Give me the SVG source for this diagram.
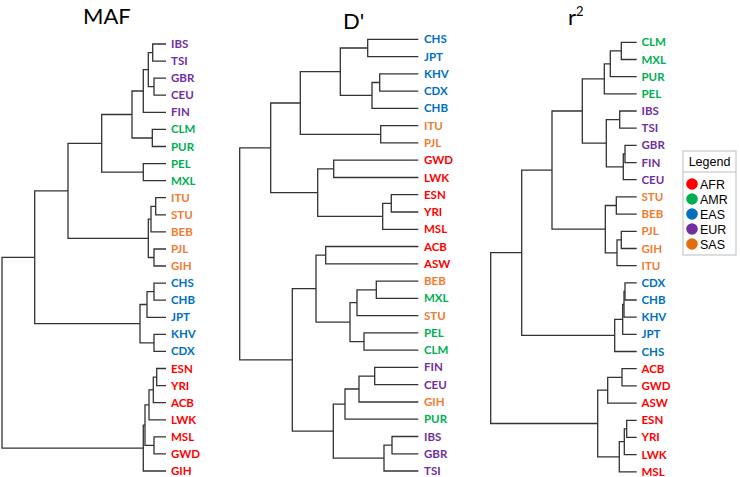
<svg xmlns="http://www.w3.org/2000/svg" width="740" height="477" viewBox="0 0 740 477">
<style>
.bg{fill:#ffffff}
.ln{fill:none;stroke:#333333;stroke-width:1.3}
.title{font-family:Lato,"Open Sans","Liberation Sans",sans-serif;font-size:22px;fill:#000}
.lb{font-family:Lato,"Liberation Sans",sans-serif;font-weight:bold;font-size:11.5px}
.eur{fill:#7030A0}.amr{fill:#00B050}.sas{fill:#ED7D31}.eas{fill:#0070C0}.afr{fill:#FF0000}
.lg{font-family:"Liberation Sans",Arial,sans-serif;font-size:12.5px;fill:#000}
.lgbox{fill:#fff;stroke:#bdbdbd;stroke-width:1}
</style>
<rect class="bg" x="0" y="0" width="740" height="477"/>
<g id="titles">
<text class="title" x="83" y="24">MAF</text>
<text class="title" x="343" y="29">D'</text>
<text class="title" x="568" y="25">r<tspan font-size="13" dy="-9">2</tspan></text>
</g>
<g id="connectors">
<!-- MAF tree -->
<path class="ln" d="M166 44H152.7V61.1H166"/>
<path class="ln" d="M166 78.2H154V95.2H166"/>
<path class="ln" d="M152.7 52.6H148.3V86.7H154"/>
<path class="ln" d="M148.3 69.6H143.3V112.3H166"/>
<path class="ln" d="M166 129.4H152.3V146.5H166"/>
<path class="ln" d="M143.3 91H132V138H152.3"/>
<path class="ln" d="M166 163.6H143.3V180.6H166"/>
<path class="ln" d="M132 114.5H101.7V172.1H143.3"/>
<path class="ln" d="M166 197.7H155.7V214.8H166"/>
<path class="ln" d="M155.7 206.3H151V231.9H166"/>
<path class="ln" d="M166 249H154V266H166"/>
<path class="ln" d="M151 219.1H148.3V257.5H154"/>
<path class="ln" d="M101.7 143.3H68V238.3H148.3"/>
<path class="ln" d="M166 283.1H154V300.2H166"/>
<path class="ln" d="M154 291.7H147V317.3H166"/>
<path class="ln" d="M166 334.4H154V351.4H166"/>
<path class="ln" d="M147 304.5H140V342.9H154"/>
<path class="ln" d="M68 190.8H34.7V323.7H140"/>
<path class="ln" d="M166 368.5H156.7V385.6H166"/>
<path class="ln" d="M156.7 377.1H153.3V402.7H166"/>
<path class="ln" d="M153.3 389.9H149V419.8H166"/>
<path class="ln" d="M166 436.8H154V453.9H166"/>
<path class="ln" d="M149 404.9H145V445.4H154"/>
<path class="ln" d="M145 425.1H143.3V471H166"/>
<path class="ln" d="M34.7 257.3H2V448.1H143.3"/>
<!-- D' tree -->
<path class="ln" d="M418.3 39.3H367.7V56.6H418.3"/>
<path class="ln" d="M418.3 73.8H379.7V91.1H418.3"/>
<path class="ln" d="M379.7 82.5H372V108.4H418.3"/>
<path class="ln" d="M367.7 48H340.3V95.4H372"/>
<path class="ln" d="M418.3 125.7H380.7V142.9H418.3"/>
<path class="ln" d="M340.3 71.7H300.3V134.3H380.7"/>
<path class="ln" d="M418.3 160.2H333.7V177.5H418.3"/>
<path class="ln" d="M418.3 194.7H391.3V212H418.3"/>
<path class="ln" d="M391.3 203.4H382.7V229.3H418.3"/>
<path class="ln" d="M333.7 168.9H317.7V216.3H382.7"/>
<path class="ln" d="M300.3 103H270.7V192.6H317.7"/>
<path class="ln" d="M418.3 246.5H325.7V263.8H418.3"/>
<path class="ln" d="M418.3 281.1H376.3V298.4H418.3"/>
<path class="ln" d="M376.3 289.8H357V315.6H418.3"/>
<path class="ln" d="M418.3 332.9H364V350.2H418.3"/>
<path class="ln" d="M357 302.7H350V341.6H364"/>
<path class="ln" d="M325.7 255.2H316V322.1H350"/>
<path class="ln" d="M418.3 367.4H374.7V384.7H418.3"/>
<path class="ln" d="M374.7 376.1H359V402H418.3"/>
<path class="ln" d="M359 389H345V419.2H418.3"/>
<path class="ln" d="M418.3 436.5H392V453.8H418.3"/>
<path class="ln" d="M392 445.2H384V471H418.3"/>
<path class="ln" d="M345 404.1H333.3V458.1H384"/>
<path class="ln" d="M316 288.6H292.3V431.1H333.3"/>
<path class="ln" d="M270.7 147.8H239.7V359.9H292.3"/>
<!-- r2 tree -->
<path class="ln" d="M636.7 42.3H621.3V59.5H636.7"/>
<path class="ln" d="M621.3 50.9H610.3V76.7H636.7"/>
<path class="ln" d="M610.3 63.8H604.3V93.8H636.7"/>
<path class="ln" d="M636.7 111H619.7V128.2H636.7"/>
<path class="ln" d="M636.7 145.4H625V162.6H636.7"/>
<path class="ln" d="M625 154H623.3V179.7H636.7"/>
<path class="ln" d="M619.7 119.6H606.3V166.9H623.3"/>
<path class="ln" d="M604.3 78.8H582.3V143.2H606.3"/>
<path class="ln" d="M636.7 196.9H616.3V214.1H636.7"/>
<path class="ln" d="M636.7 231.3H621.3V248.5H636.7"/>
<path class="ln" d="M621.3 239.9H617V265.6H636.7"/>
<path class="ln" d="M616.3 205.5H605.3V252.8H617"/>
<path class="ln" d="M582.3 111H552V229.1H605.3"/>
<path class="ln" d="M636.7 282.8H625V300H636.7"/>
<path class="ln" d="M625 291.4H624V317.2H636.7"/>
<path class="ln" d="M624 304.3H622.7V334.4H636.7"/>
<path class="ln" d="M622.7 319.4H614.7V351.5H636.7"/>
<path class="ln" d="M552 170.1H521.7V335.4H614.7"/>
<path class="ln" d="M636.7 368.7H622V385.9H636.7"/>
<path class="ln" d="M622 377.3H607.7V403.1H636.7"/>
<path class="ln" d="M636.7 420.3H626.7V437.4H636.7"/>
<path class="ln" d="M626.7 428.9H624.3V454.6H636.7"/>
<path class="ln" d="M624.3 441.7H619.3V471.8H636.7"/>
<path class="ln" d="M607.7 390.2H597.7V456.8H619.3"/>
<path class="ln" d="M521.7 252.7H490.7V423.5H597.7"/>
</g>
<g id="maf-leaves" class="lb">
<g id="maf-IBS"><text class="eur" x="171" y="48">IBS</text></g>
<g id="maf-TSI"><text class="eur" x="171" y="65.1">TSI</text></g>
<g id="maf-GBR"><text class="eur" x="171" y="82.2">GBR</text></g>
<g id="maf-CEU"><text class="eur" x="171" y="99.2">CEU</text></g>
<g id="maf-FIN"><text class="eur" x="171" y="116.3">FIN</text></g>
<g id="maf-CLM"><text class="amr" x="171" y="133.4">CLM</text></g>
<g id="maf-PUR"><text class="amr" x="171" y="150.5">PUR</text></g>
<g id="maf-PEL"><text class="amr" x="171" y="167.6">PEL</text></g>
<g id="maf-MXL"><text class="amr" x="171" y="184.6">MXL</text></g>
<g id="maf-ITU"><text class="sas" x="171" y="201.7">ITU</text></g>
<g id="maf-STU"><text class="sas" x="171" y="218.8">STU</text></g>
<g id="maf-BEB"><text class="sas" x="171" y="235.9">BEB</text></g>
<g id="maf-PJL"><text class="sas" x="171" y="253">PJL</text></g>
<g id="maf-GIH"><text class="sas" x="171" y="270">GIH</text></g>
<g id="maf-CHS"><text class="eas" x="171" y="287.1">CHS</text></g>
<g id="maf-CHB"><text class="eas" x="171" y="304.2">CHB</text></g>
<g id="maf-JPT"><text class="eas" x="171" y="321.3">JPT</text></g>
<g id="maf-KHV"><text class="eas" x="171" y="338.4">KHV</text></g>
<g id="maf-CDX"><text class="eas" x="171" y="355.4">CDX</text></g>
<g id="maf-ESN"><text class="afr" x="171" y="372.5">ESN</text></g>
<g id="maf-YRI"><text class="afr" x="171" y="389.6">YRI</text></g>
<g id="maf-ACB"><text class="afr" x="171" y="406.7">ACB</text></g>
<g id="maf-LWK"><text class="afr" x="171" y="423.8">LWK</text></g>
<g id="maf-MSL"><text class="afr" x="171" y="440.8">MSL</text></g>
<g id="maf-GWD"><text class="afr" x="171" y="457.9">GWD</text></g>
<g id="maf-GIH2"><text class="afr" x="171" y="475">GIH</text></g>
</g>
<g id="d-leaves" class="lb">
<g id="d-CHS"><text class="eas" x="424" y="43.3">CHS</text></g>
<g id="d-JPT"><text class="eas" x="424" y="60.6">JPT</text></g>
<g id="d-KHV"><text class="eas" x="424" y="77.8">KHV</text></g>
<g id="d-CDX"><text class="eas" x="424" y="95.1">CDX</text></g>
<g id="d-CHB"><text class="eas" x="424" y="112.4">CHB</text></g>
<g id="d-ITU"><text class="sas" x="424" y="129.7">ITU</text></g>
<g id="d-PJL"><text class="sas" x="424" y="146.9">PJL</text></g>
<g id="d-GWD"><text class="afr" x="424" y="164.2">GWD</text></g>
<g id="d-LWK"><text class="afr" x="424" y="181.5">LWK</text></g>
<g id="d-ESN"><text class="afr" x="424" y="198.7">ESN</text></g>
<g id="d-YRI"><text class="afr" x="424" y="216">YRI</text></g>
<g id="d-MSL"><text class="afr" x="424" y="233.3">MSL</text></g>
<g id="d-ACB"><text class="afr" x="424" y="250.5">ACB</text></g>
<g id="d-ASW"><text class="afr" x="424" y="267.8">ASW</text></g>
<g id="d-BEB"><text class="sas" x="424" y="285.1">BEB</text></g>
<g id="d-MXL"><text class="amr" x="424" y="302.4">MXL</text></g>
<g id="d-STU"><text class="sas" x="424" y="319.6">STU</text></g>
<g id="d-PEL"><text class="amr" x="424" y="336.9">PEL</text></g>
<g id="d-CLM"><text class="amr" x="424" y="354.2">CLM</text></g>
<g id="d-FIN"><text class="eur" x="424" y="371.4">FIN</text></g>
<g id="d-CEU"><text class="eur" x="424" y="388.7">CEU</text></g>
<g id="d-GIH"><text class="sas" x="424" y="406">GIH</text></g>
<g id="d-PUR"><text class="amr" x="424" y="423.2">PUR</text></g>
<g id="d-IBS"><text class="eur" x="424" y="440.5">IBS</text></g>
<g id="d-GBR"><text class="eur" x="424" y="457.8">GBR</text></g>
<g id="d-TSI"><text class="eur" x="424" y="475">TSI</text></g>
</g>
<g id="r-leaves" class="lb">
<g id="r-CLM"><text class="amr" x="641.5" y="46.3">CLM</text></g>
<g id="r-MXL"><text class="amr" x="641.5" y="63.5">MXL</text></g>
<g id="r-PUR"><text class="amr" x="641.5" y="80.7">PUR</text></g>
<g id="r-PEL"><text class="amr" x="641.5" y="97.8">PEL</text></g>
<g id="r-IBS"><text class="eur" x="641.5" y="115">IBS</text></g>
<g id="r-TSI"><text class="eur" x="641.5" y="132.2">TSI</text></g>
<g id="r-GBR"><text class="eur" x="641.5" y="149.4">GBR</text></g>
<g id="r-FIN"><text class="eur" x="641.5" y="166.6">FIN</text></g>
<g id="r-CEU"><text class="eur" x="641.5" y="183.7">CEU</text></g>
<g id="r-STU"><text class="sas" x="641.5" y="200.9">STU</text></g>
<g id="r-BEB"><text class="sas" x="641.5" y="218.1">BEB</text></g>
<g id="r-PJL"><text class="sas" x="641.5" y="235.3">PJL</text></g>
<g id="r-GIH"><text class="sas" x="641.5" y="252.5">GIH</text></g>
<g id="r-ITU"><text class="sas" x="641.5" y="269.6">ITU</text></g>
<g id="r-CDX"><text class="eas" x="641.5" y="286.8">CDX</text></g>
<g id="r-CHB"><text class="eas" x="641.5" y="304">CHB</text></g>
<g id="r-KHV"><text class="eas" x="641.5" y="321.2">KHV</text></g>
<g id="r-JPT"><text class="eas" x="641.5" y="338.4">JPT</text></g>
<g id="r-CHS"><text class="eas" x="641.5" y="355.5">CHS</text></g>
<g id="r-ACB"><text class="afr" x="641.5" y="372.7">ACB</text></g>
<g id="r-GWD"><text class="afr" x="641.5" y="389.9">GWD</text></g>
<g id="r-ASW"><text class="afr" x="641.5" y="407.1">ASW</text></g>
<g id="r-ESN"><text class="afr" x="641.5" y="424.3">ESN</text></g>
<g id="r-YRI"><text class="afr" x="641.5" y="441.4">YRI</text></g>
<g id="r-LWK"><text class="afr" x="641.5" y="458.6">LWK</text></g>
<g id="r-MSL"><text class="afr" x="641.5" y="475.8">MSL</text></g>
</g>
<g id="legend">
<rect class="lgbox" x="683" y="151" width="53" height="104"/>
<line x1="683" y1="172" x2="736" y2="172" stroke="#bdbdbd" stroke-width="1"/>
<text class="lg" x="709.5" y="166" text-anchor="middle" font-size="12">Legend</text>
<circle cx="692" cy="184" r="5.8" fill="#FF0000"/><text class="lg" x="700" y="188.5">AFR</text>
<circle cx="692" cy="199" r="5.8" fill="#00B050"/><text class="lg" x="700" y="203.5">AMR</text>
<circle cx="692" cy="214" r="5.8" fill="#0070C0"/><text class="lg" x="700" y="218.5">EAS</text>
<circle cx="692" cy="229" r="5.8" fill="#7030A0"/><text class="lg" x="700" y="233.5">EUR</text>
<circle cx="692" cy="244" r="5.8" fill="#E36C09"/><text class="lg" x="700" y="248.5">SAS</text>
</g>
</svg>
